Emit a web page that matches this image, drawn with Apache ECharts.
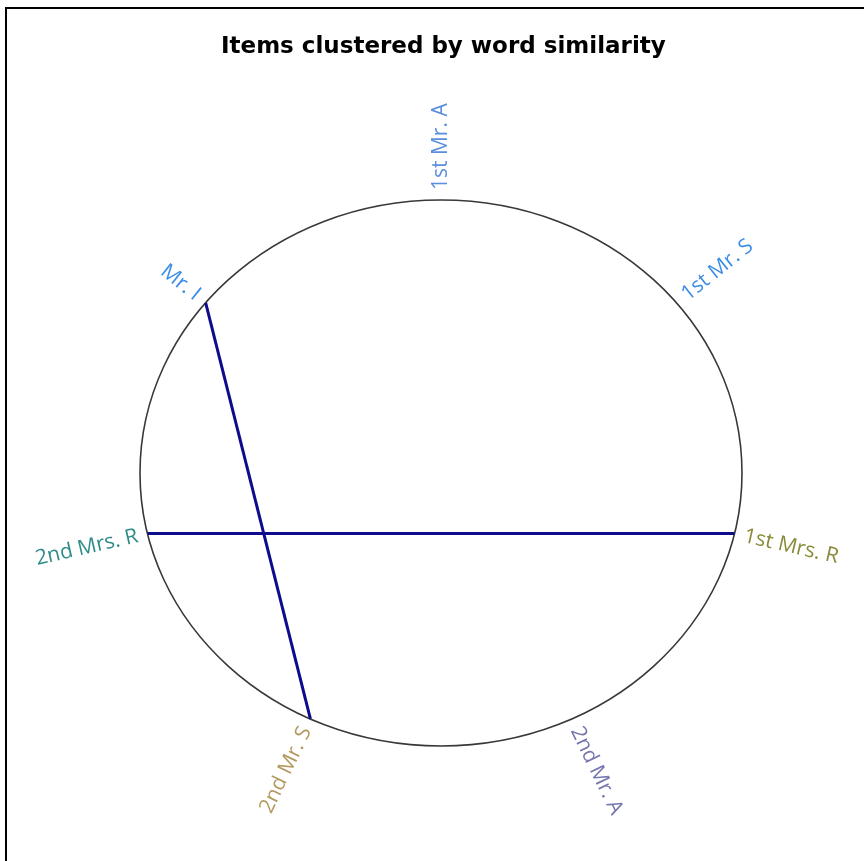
<!DOCTYPE html>
<html>
<head>
<meta charset="utf-8">
<script src="https://cdn.jsdelivr.net/npm/echarts@6/dist/echarts.min.js"></script>
<style>
  html, body { margin: 0; padding: 0; background: #fff; }
  #chart { width: 864px; height: 861px; }
  .frame {
    position: absolute; left: 5px; top: 7px; right: 0; bottom: 0;
    border-left: 2px solid #000; border-top: 2px solid #000;
    pointer-events: none;
  }
</style>
</head>
<body>
<div id="chart"></div>
<div class="frame"></div>
<script>
  // nodes in clockwise order, starting at the top of the ring
  var nodeNames = ['1st Mr. A', '1st Mr. S', '1st Mrs. R', '2nd Mr. A', '2nd Mr. S', '2nd Mrs. R', 'Mr. I']
  var nodeColors = ['#5b8ede', '#3b8de6', '#8a8a3a', '#7575b0', '#b39a60', '#2e8c88', '#3b8de6']
  var linkPairs = [['Mr. I', '2nd Mr. S'], ['2nd Mrs. R', '1st Mrs. R']]

  var chart = echarts.init(document.getElementById('chart'))
  var gap = 10
  var step = 360 / nodeNames.length

  var nodes = nodeNames.map(function (name, i) {
    var deg = 90 - i * step
    var rad = deg * Math.PI / 180
    var isLeft = Math.cos(rad) < -1e-6
    return {
      name: name,
      value: [Math.cos(rad), Math.sin(rad)],
      label: {
        show: true,
        position: 'inside',
        // offset is in the rotated text frame, so push along the reading direction
        offset: isLeft ? [-gap, 0] : [gap, 0],
        align: isLeft ? 'right' : 'left',
        verticalAlign: 'middle',
        rotate: isLeft ? deg + 180 : deg,
        color: nodeColors[i]
      }
    }
  })

  var links = linkPairs.map(function (p) {
    return { source: p[0], target: p[1] }
  })

  chart.setOption({
    animation: false,
    title: {
      text: 'Items clustered by word similarity',
      left: 216,
      top: 31,
      textStyle: {
        fontFamily: 'DejaVu Sans',
        fontWeight: 'bold',
        fontSize: 23,
        color: '#000'
      }
    },
    grid: { left: 140, top: 200, width: 602, height: 546 },
    xAxis: { type: 'value', min: -1, max: 1, show: false },
    yAxis: { type: 'value', min: -1, max: 1, show: false },
    series: [
      {
        type: 'custom',
        coordinateSystem: 'cartesian2d',
        data: [[0, 0]],
        silent: true,
        z: 1,
        renderItem: function (params, api) {
          var c = api.coord([0, 0])
          var s = api.size([1, 1])
          return {
            type: 'ellipse',
            shape: { cx: c[0], cy: c[1], rx: s[0], ry: s[1] },
            style: { fill: 'none', stroke: '#383838', lineWidth: 1.6 }
          }
        }
      },
      {
        type: 'graph',
        coordinateSystem: 'cartesian2d',
        layout: 'none',
        z: 2,
        symbol: 'circle',
        symbolSize: 2,
        itemStyle: { color: 'rgba(0,0,0,0)' },
        label: {
          fontFamily: 'Open Sans',
          fontSize: 21
        },
        lineStyle: { color: '#0c0c8c', width: 3, opacity: 1, curveness: 0 },
        data: nodes,
        links: links
      }
    ]
  })
</script>
</body>
</html>
